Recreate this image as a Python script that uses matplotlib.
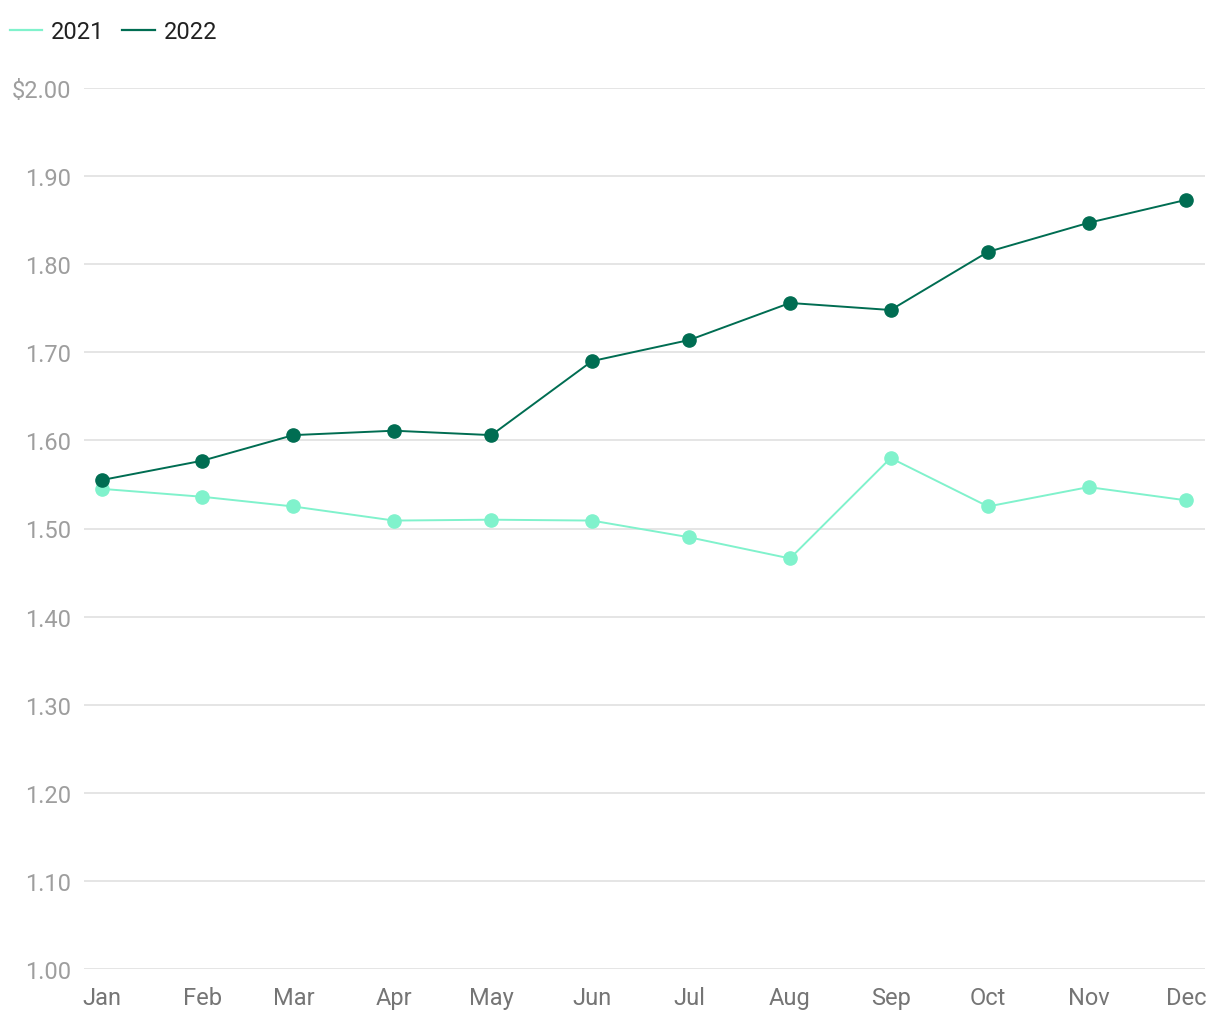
import matplotlib
matplotlib.use("Agg")
import matplotlib.pyplot as plt
from matplotlib.lines import Line2D
import pandas as pd

plt.rcParams['font.family'] = ['Roboto', 'DejaVu Sans']

months = ["Jan", "Feb", "Mar", "Apr", "May", "Jun", "Jul", "Aug", "Sep", "Oct", "Nov", "Dec"]
values_2021 = [1.545, 1.536, 1.525, 1.509, 1.510, 1.509, 1.490, 1.466, 1.580, 1.525, 1.547, 1.532]
values_2022 = [1.555, 1.577, 1.606, 1.611, 1.606, 1.690, 1.714, 1.756, 1.748, 1.814, 1.847, 1.873]
yticks = [1.0, 1.1, 1.2, 1.3, 1.4, 1.5, 1.6, 1.7, 1.8, 1.9, 2.0]
series_labels = ["2021", "2022"]
colors = ["#80f2cc", "#006d52"]

dates = pd.to_datetime([f"2022-{m}-01" for m in months], format="%Y-%b-%d")

fig = plt.figure(figsize=(12.2, 10.2), dpi=100)
ax = fig.add_axes([84/1220, 1 - 970/1020, (1205-84)/1220, (970-89)/1020])

for vals, c in zip([values_2021, values_2022], colors):
    ax.plot(dates, vals, color=c, lw=1.4, marker='o', markersize=9.5, clip_on=False, zorder=3)

ax.set_ylim(1.0, 2.0)
ax.set_xlim(dates[0] - pd.Timedelta(days=5.5), dates[-1] + pd.Timedelta(days=5.85))
ax.set_yticks(yticks)
ax.set_yticklabels([("$%.2f" % v) if v == 2.0 else ("%.2f" % v) for v in yticks])
ax.set_xticks(dates)
ax.set_xticklabels(months)
ax.grid(axis='y', color='#e0e0e0', lw=1.2)
ax.set_axisbelow(True)
for s in ax.spines.values():
    s.set_visible(False)
ax.tick_params(axis='y', length=0, pad=9.4, labelsize=17, labelcolor='#9e9e9e')
ax.tick_params(axis='x', length=0, pad=12, labelsize=17, labelcolor='#757575')

handles = [Line2D([0], [0], color=c, lw=1.6) for c in colors]
fig.legend(handles, series_labels, loc='center left', bbox_to_anchor=(10/1220, 1 - 32.5/1020),
           ncol=2, frameon=False, fontsize=17, handlelength=1.36, handletextpad=0.38,
           columnspacing=0.76, borderaxespad=0, borderpad=0, labelcolor='#212121')

fig.savefig("out.png", dpi=100)
